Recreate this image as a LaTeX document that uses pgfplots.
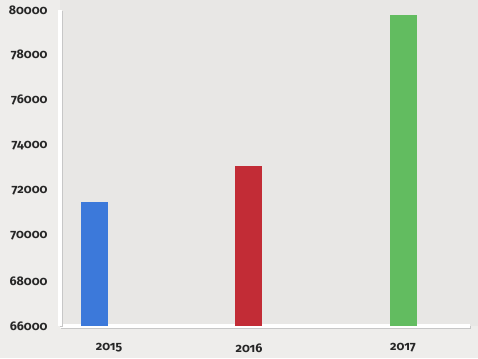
\documentclass[border=0pt]{standalone}
\usepackage{pgfplots}
\pgfplotsset{compat=1.18}
\usepackage{fontspec}
\setmainfont{Fira Sans}[Numbers=OldStyle]
\newfontfamily\labfont{Fira Sans}[Numbers=OldStyle]
\newcommand\lab[1]{\mbox{\labfont\bfseries\fontsize{12.5}{14}\selectfont #1}}
\definecolor{bg}{RGB}{238,237,235}
\definecolor{panel}{RGB}{232,231,229}
\definecolor{lab}{RGB}{38,38,38}
\definecolor{cblue}{RGB}{60,121,218}
\definecolor{cred}{RGB}{194,44,54}
\definecolor{cgreen}{RGB}{98,188,96}
\begin{document}
\begin{tikzpicture}[x=1pt,y=1pt]
\fill[bg] (0,0) rectangle (478,358);
\fill[panel] (60,32) rectangle (478,358);
\begin{axis}[
  at={(60pt,32pt)}, anchor=south west,
  scale only axis, width=410pt, height=316pt,
  xmin=-0.227, xmax=2.435,
  ymin=66000, ymax=80000,
  axis x line*=bottom, axis y line*=left,
  axis line style={draw=white, line width=3.5pt, -,
    preaction={draw=black!22, line width=3pt, transform canvas={shift={(1.2pt,-1.5pt)}}}},
  xtick={0,1,2}, xticklabels={\lab{\hspace*{28pt}2015},\lab{2016},\lab{2017}},
  ytick={66000,68000,70000,72000,74000,76000,78000,80000},
  yticklabel={\lab{\pgfmathprintnumber[assume math mode=true,1000 sep={}]{\tick}}},
  major tick length=0pt,
  scaled y ticks=false,
  tick label style={text=lab},
  yticklabel style={xshift=-9pt},
  xticklabel style={yshift=-14pt},
  ybar, bar width=27pt,
  clip=false,
]
\addplot[fill=cblue, draw=none, bar shift=0pt] coordinates {(0,71500)};
\addplot[fill=cred, draw=none, bar shift=0pt] coordinates {(1,73100)};
\addplot[fill=cgreen, draw=none, bar shift=0pt] coordinates {(2,79800)};
\end{axis}
\pgfresetboundingbox
\useasboundingbox (0,0) rectangle (478,358);
\end{tikzpicture}
\end{document}
